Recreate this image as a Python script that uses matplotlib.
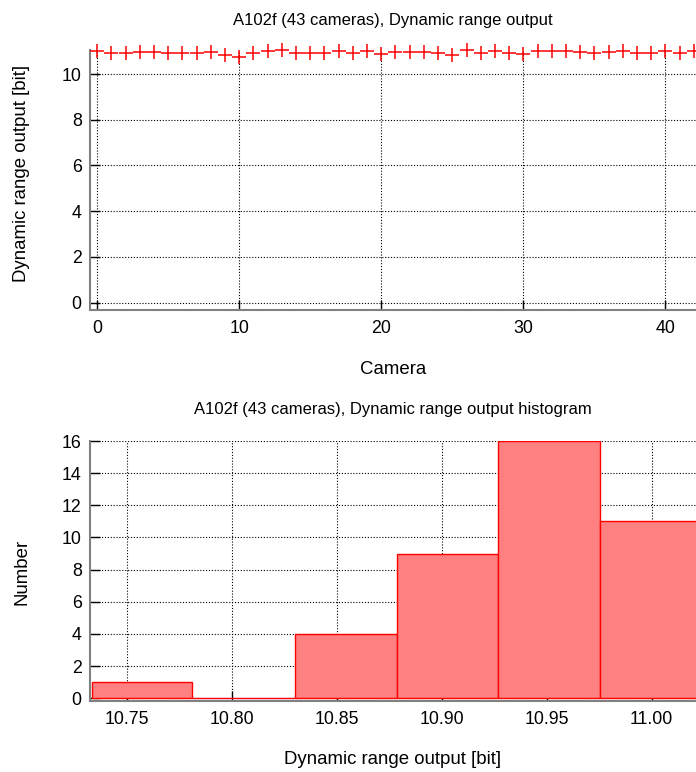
"""Dynamic range output per camera and its histogram (A102f)."""

import matplotlib
matplotlib.use("Agg")
import matplotlib.pyplot as plt

plt.rcParams["font.family"] = ["Liberation Sans", "DejaVu Sans"]
plt.rcParams["font.size"] = 12.8
plt.rcParams["axes.labelsize"] = 13.4

# Section: values.
CAMERAS = list(range(43))
DYN_RANGE = [
    11.00, 10.94, 10.90, 10.97, 10.97, 10.94, 10.94, 10.90, 10.96, 10.84,
    10.76, 10.94, 11.02, 11.04, 10.90, 10.94, 10.94, 10.99, 10.94, 10.99,
    10.86, 10.96, 10.96, 10.96, 10.90, 10.85, 11.035, 10.94, 10.99, 10.92,
    10.87, 10.99, 10.99, 10.99, 10.96, 10.92, 10.96, 11.01, 10.92, 10.92,
    11.01, 10.92, 10.99,
]
BIN_EDGES = [10.7335, 10.7813, 10.8303, 10.8786, 10.9270, 10.9754, 11.0238]
BIN_COUNTS = [1, 0, 4, 9, 16, 11]

CAMERA_TICKS = [0, 10, 20, 30, 40]
DR_TICKS = [0, 2, 4, 6, 8, 10]
HIST_XTICKS = [10.75, 10.80, 10.85, 10.90, 10.95, 11.00]
HIST_YTICKS = [0, 2, 4, 6, 8, 10, 12, 14, 16]

TITLE_SIZE = 12


def style_axes(ax):
    for side in ("top", "right"):
        ax.spines[side].set_visible(False)
    for side in ("left", "bottom"):
        ax.spines[side].set_color("#808080")
        ax.spines[side].set_linewidth(1.5)
    ax.tick_params(direction="in", length=7, width=1, color="black")
    ax.tick_params(axis="x", pad=7)
    ax.tick_params(axis="y", pad=6)
    ax.grid(True, color="black", linestyle=(0, (1, 1.6)), linewidth=0.8)
    ax.set_axisbelow(True)


fig = plt.figure(figsize=(6.96, 7.72), dpi=100)

# Section: top panel, dynamic range per camera.
ax1 = fig.add_axes([90 / 696, 1 - 310 / 772, 606 / 696, 260 / 772])
ax1.plot(CAMERAS, DYN_RANGE, linestyle="none", marker="+", markersize=9.5,
         markeredgewidth=1.1, color="red", clip_on=False, zorder=3)
ax1.set_xlim(-0.5, 42.15)
ax1.set_ylim(-0.32, 11.05)
ax1.set_xticks(CAMERA_TICKS)
ax1.set_yticks(DR_TICKS)
style_axes(ax1)
ax1.text(0.5, 1.115, "A102f (43 cameras), Dynamic range output",
         transform=ax1.transAxes, ha="center", va="center", fontsize=TITLE_SIZE)
ax1.set_xlabel("Camera")
ax1.xaxis.set_label_coords(0.5, -0.197)
ax1.set_ylabel("Dynamic range output [bit]")
ax1.yaxis.set_label_coords(-0.099, 0.527)

# Section: bottom panel, histogram of the same values.
ax2 = fig.add_axes([90 / 696, 1 - 701 / 772, 606 / 696, 260 / 772])
widths = [b - a for a, b in zip(BIN_EDGES[:-1], BIN_EDGES[1:])]
ax2.bar(BIN_EDGES[:-1], BIN_COUNTS, width=widths, align="edge",
        color="#ff8080", edgecolor="red", linewidth=1, zorder=3)
ax2.set_xlim(10.7325, 11.0211)
ax2.set_ylim(-0.17, 16)
ax2.set_xticks(HIST_XTICKS)
ax2.set_xticklabels([f"{v:.2f}" for v in HIST_XTICKS])
ax2.set_yticks(HIST_YTICKS)
style_axes(ax2)
ax2.text(0.5, 1.12, "A102f (43 cameras), Dynamic range output histogram",
         transform=ax2.transAxes, ha="center", va="center", fontsize=TITLE_SIZE)
ax2.set_xlabel("Dynamic range output [bit]")
ax2.xaxis.set_label_coords(0.5, -0.193)
ax2.set_ylabel("Number")
ax2.yaxis.set_label_coords(-0.099, 0.496)

fig.savefig("out.png", dpi=100)
